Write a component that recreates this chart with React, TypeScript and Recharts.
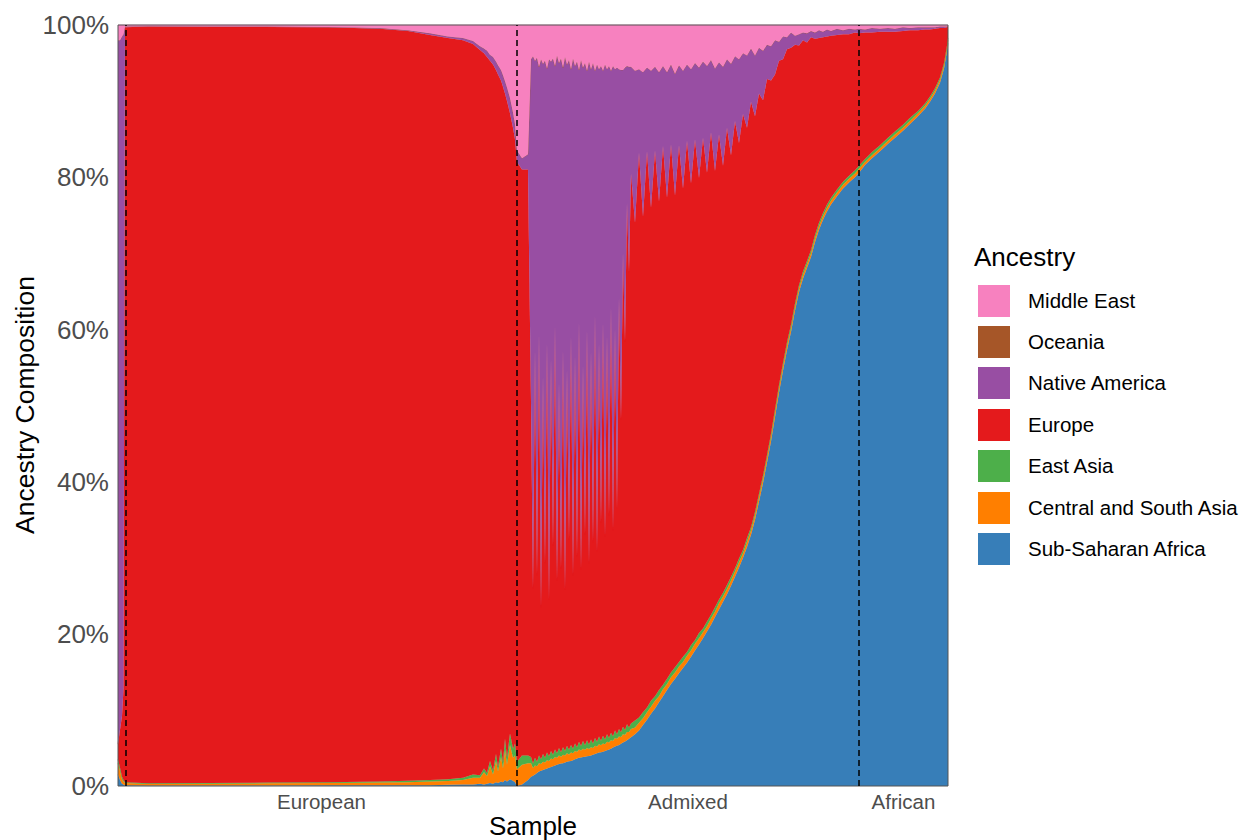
import { AreaChart, Area, XAxis, YAxis, ReferenceLine, ReferenceArea } from "recharts";

// sample rank on the x axis (samples are sorted inside each group)
const sampleRank = [
  0, 2, 4, 5.5, 7,
  30, 90, 150, 210, 262, 290, 312, 330, 345, 355,
  362, 366, 369, 372, 375, 378, 380, 383, 385, 387,
  389, 392, 395, 397, 399,
  404, 410,
  413, 415, 417, 419, 421, 423, 425, 427, 429, 431,
  433, 435, 437, 439, 441, 443, 445, 447, 449, 451,
  453, 455, 457, 459, 461, 463, 465, 467, 469, 471,
  473, 475, 477, 479, 481, 483, 485, 487, 489, 491,
  493, 495, 497, 499, 501, 503, 505, 507, 509, 511,
  513,
  517, 521, 525, 529, 533, 537, 541, 545, 549, 553,
  557, 561, 565, 569, 573, 577, 581, 585, 589, 593,
  597, 601, 605, 609, 613, 617, 621, 625, 629, 633,
  637, 641, 645, 649, 653, 657, 661, 665, 669, 673,
  677, 681, 685, 689, 693,
  697, 701, 705, 709, 713,
  719, 725, 731, 737, 741,
  747, 754, 762, 770, 777, 785, 792, 800, 807, 812,
  817, 822, 826, 829, 830,
];

// ancestry proportions (%) per sample
const subSaharanAfrica = [
  1.5, 0.8, 0.3, 0.2, 0.1,
  0.05, 0.05, 0.05, 0.1, 0.1, 0.1, 0.1, 0.15, 0.2, 0.2,
  0.3, 0.2, 0.3, 0.4, 0.3, 0.5, 0.4, 0.6, 0.5, 0.8,
  0.6, 0.9, 0.7, 0.5, 0.0,
  0.2, 0.8,
  1.2, 1.35, 1.5, 1.7, 1.9, 2.0, 2.1, 2.2, 2.3, 2.4,
  2.5, 2.6, 2.7, 2.8, 2.9, 2.95, 3.0, 3.1, 3.2, 3.25,
  3.3, 3.4, 3.5, 3.6, 3.7, 3.75, 3.8, 3.85, 3.9, 3.95,
  4.0, 4.1, 4.2, 4.3, 4.4, 4.45, 4.5, 4.6, 4.7, 4.8,
  4.9, 5.05, 5.2, 5.3, 5.4, 5.55, 5.7, 5.85, 6.0, 6.2,
  6.4,
  6.8, 7.3, 8.0, 8.7, 9.5, 10.2, 11.0, 11.8, 12.6, 13.4,
  14.1, 14.8, 15.5, 16.2, 17.0, 17.8, 18.6, 19.4, 20.3, 21.2,
  22.2, 23.2, 24.2, 25.2, 26.3, 27.5, 28.7, 30.0, 31.4, 33.0,
  35.0, 37.4, 39.8, 42.5, 45.3, 48.5, 51.7, 54.6, 57.3, 59.7,
  62.5, 64.9, 66.7, 68.1, 69.5,
  71.5, 73.1, 74.4, 75.5, 76.4,
  77.5, 78.5, 79.3, 80.0, 80.6,
  81.6, 82.5, 83.4, 84.4, 85.2, 86.1, 87.0, 88.0, 89.0, 89.9,
  91.0, 92.4, 94.3, 96.6, 97.6,
];

const centralSouthAsia = [
  1.5, 1.2, 0.6, 0.4, 0.3,
  0.2, 0.25, 0.3, 0.3, 0.35, 0.4, 0.5, 0.5, 0.6, 0.9,
  0.8, 1.6, 1.0, 2.2, 1.2, 2.8, 1.5, 3.2, 1.8, 4.0,
  2.2, 4.5, 3.0, 3.5, 2.2,
  2.6, 2.2,
  1.8, 1.0, 1.2, 0.9, 1.1, 0.9, 1.1, 0.9, 1.1, 0.9,
  1.1, 0.9, 1.1, 0.9, 1.1, 0.9, 1.1, 0.9, 1.1, 0.9,
  1.1, 0.9, 1.1, 0.9, 1.1, 0.9, 1.1, 0.9, 1.1, 0.9,
  1.1, 0.9, 1.1, 0.9, 1.1, 0.9, 1.1, 0.9, 1.1, 0.9,
  1.1, 0.9, 1.1, 0.9, 1.1, 0.9, 1.1, 0.9, 1.1, 0.9,
  1.1,
  0.9, 1.0, 0.9, 1.0, 0.9, 1.0, 0.8, 0.9, 0.8, 0.9,
  0.8, 0.9, 0.8, 0.9, 0.8, 0.9, 0.8, 0.8, 0.7, 0.8,
  0.7, 0.8, 0.7, 0.7, 0.7, 0.7, 0.7, 0.6, 0.7, 0.6,
  0.6, 0.6, 0.6, 0.6, 0.6, 0.6, 0.6, 0.6, 0.6, 0.5,
  0.5, 0.5, 0.5, 0.5, 0.5,
  0.5, 0.5, 0.5, 0.5, 0.5,
  0.5, 0.5, 0.5, 0.5, 0.5,
  0.4, 0.4, 0.4, 0.4, 0.4, 0.4, 0.4, 0.4, 0.4, 0.4,
  0.4, 0.4, 0.4, 0.4, 0.4,
];

const eastAsia = [
  0.5, 0.4, 0.3, 0.2, 0.1,
  0.1, 0.1, 0.1, 0.1, 0.15, 0.2, 0.2, 0.25, 0.3, 0.4,
  0.3, 0.5, 0.4, 0.7, 0.5, 0.9, 0.6, 1.1, 0.8, 1.4,
  0.9, 1.5, 1.2, 1.6, 1.0,
  1.2, 1.0,
  0.8, 0.6, 1.0, 0.6, 1.0, 0.6, 1.0, 0.6, 1.0, 0.6,
  1.0, 0.6, 1.0, 0.6, 1.0, 0.6, 1.0, 0.6, 1.0, 0.6,
  1.0, 0.6, 1.0, 0.6, 1.0, 0.6, 1.0, 0.6, 1.0, 0.6,
  1.0, 0.6, 1.0, 0.6, 1.0, 0.6, 1.0, 0.6, 1.0, 0.6,
  1.0, 0.6, 1.0, 0.6, 1.0, 0.6, 1.0, 0.6, 1.0, 0.6,
  0.7,
  0.9, 0.7, 0.8, 0.6, 0.8, 0.6, 0.8, 0.6, 0.7, 0.6,
  0.7, 0.6, 0.7, 0.5, 0.7, 0.5, 0.7, 0.5, 0.6, 0.5,
  0.6, 0.5, 0.5, 0.5, 0.5, 0.4, 0.5, 0.4, 0.5, 0.4,
  0.4, 0.4, 0.4, 0.4, 0.4, 0.4, 0.4, 0.4, 0.4, 0.4,
  0.4, 0.4, 0.4, 0.4, 0.4,
  0.4, 0.4, 0.4, 0.4, 0.4,
  0.4, 0.4, 0.4, 0.4, 0.4,
  0.4, 0.4, 0.4, 0.4, 0.4, 0.4, 0.4, 0.3, 0.3, 0.3,
  0.3, 0.3, 0.3, 0.3, 0.3,
];

const europe = [
  2.0, 5.0, 8.0, 12.0, 99.2,
  99.45, 99.35, 99.3, 99.2, 98.9, 98.5, 97.9, 97.4, 96.9, 96.0,
  95.3, 94.0, 94.1, 92.0, 92.8, 89.9, 91.0, 87.8, 88.8, 84.8,
  86.3, 81.5, 81.6, 79.4, 78.8,
  77.0, 77.0,
  46.7, 22.95, 53.6, 24.5, 55.5, 20.0, 49.7, 25.6, 53.9, 20.6,
  51.6, 27.5, 55.8, 22.7, 48.0, 24.15, 52.3, 21.2, 49.5, 27.65,
  53.8, 22.7, 51.0, 25.1, 55.3, 23.15, 49.5, 27.65, 54.0, 23.75,
  51.1, 26.4, 55.7, 25.0, 51.7, 28.65, 54.4, 26.7, 52.4, 29.3,
  56.0, 27.05, 52.9, 29.6, 56.7, 41.05, 62.3, 51.05, 68.5, 59.8,
  72.3,
  65.4, 74.2, 65.1, 73.1, 64.8, 71.7, 64.2, 70.8, 63.2, 69.4,
  62.0, 67.9, 61.5, 67.2, 60.7, 65.8, 59.8, 64.5, 59.0, 63.4,
  57.3, 61.1, 56.1, 60.1, 55.4, 58.8, 54.6, 57.3, 53.9, 55.9,
  52.0, 52.6, 49.3, 49.4, 46.4, 44.0, 42.6, 39.9, 38.5, 36.4,
  34.0, 31.5, 30.4, 28.7, 28.0,
  25.8, 24.3, 23.1, 22.1, 21.3,
  20.3, 19.4, 18.6, 18.1, 17.4,
  16.6, 15.7, 14.9, 13.9, 13.1, 12.3, 11.5, 10.6, 9.7, 8.8,
  7.8, 6.5, 4.6, 2.4, 1.5,
];

const nativeAmerica = [
  92.5, 90.6, 89.3, 86.0, 0.1,
  0.05, 0.05, 0.05, 0.05, 0.1, 0.1, 0.2, 0.2, 0.3, 0.4,
  0.5, 0.6, 0.8, 0.8, 1.0, 1.1, 1.2, 1.4, 1.5, 1.6,
  1.8, 2.0, 2.0, 2.0, 1.5,
  1.5, 2.0,
  45, 70, 38, 68, 35, 72, 41, 66, 36, 71,
  39, 64, 34, 69, 42, 67, 37, 70, 40, 63,
  35, 68, 38, 65, 33, 67, 39, 62, 34, 66,
  37, 63, 32, 64, 36, 60, 33, 62, 35, 59,
  31, 61, 34, 58, 30, 46, 24, 36, 18, 27,
  14,
  20, 11, 19, 11, 18, 11, 17, 10.5, 16.5, 10.5,
  16, 10.5, 15.5, 10, 15, 10, 14.5, 10, 14, 9.5,
  13.5, 9.5, 13, 9, 12, 8.5, 11, 8, 9.5, 7,
  8, 6, 6.5, 4.5, 4.5, 4.5, 2.5, 3, 1.6, 2.0,
  1.2, 1.5, 1.0, 1.2, 0.8,
  0.8, 1.0, 0.7, 0.9, 0.6,
  0.8, 0.5, 0.7, 0.4, 0.6,
  0.4, 0.6, 0.4, 0.5, 0.4, 0.5, 0.3, 0.4, 0.3, 0.3,
  0.2, 0.2, 0.2, 0.1, 0.1,
];

const oceania = [
  0, 0, 0, 0, 0,
  0, 0, 0, 0, 0, 0, 0, 0, 0, 0,
  0, 0, 0, 0, 0, 0, 0, 0, 0, 0,
  0, 0, 0, 0, 0,
  0, 0,
  0, 0, 0, 0, 0, 0, 0, 0, 0, 0,
  0, 0, 0, 0, 0, 0, 0, 0, 0, 0,
  0, 0, 0, 0, 0, 0, 0, 0, 0, 0,
  0, 0, 0, 0, 0, 0, 0, 0, 0, 0,
  0, 0, 0, 0, 0, 0, 0, 0, 0, 0,
  0,
  0, 0, 0, 0, 0, 0, 0, 0, 0, 0,
  0, 0, 0, 0, 0, 0, 0, 0, 0, 0,
  0, 0, 0, 0, 0, 0, 0, 0, 0, 0,
  0, 0, 0, 0, 0, 0, 0, 0, 0, 0,
  0, 0, 0, 0, 0,
  0, 0, 0, 0, 0,
  0, 0, 0, 0, 0,
  0, 0, 0, 0, 0, 0, 0, 0, 0, 0,
  0, 0, 0, 0, 0,
];

const middleEast = [
  2.0, 2.0, 1.5, 1.2, 0.2,
  0.15, 0.2, 0.2, 0.25, 0.4, 0.7, 1.1, 1.5, 1.7, 2.1,
  2.8, 3.1, 3.4, 3.9, 4.2, 4.8, 5.3, 5.9, 6.6, 7.4,
  8.2, 9.6, 11.5, 13.0, 16.5,
  17.5, 17.0,
  4.5, 4.1, 4.7, 4.3, 5.5, 4.5, 5.1, 4.7, 5.7, 4.5,
  4.8, 4.4, 5.4, 4.0, 5.0, 4.4, 5.6, 4.2, 5.2, 4.6,
  5.8, 4.4, 5.4, 4.8, 5.9, 4.6, 5.6, 5.0, 6.0, 4.8,
  5.8, 5.0, 6.0, 5.2, 5.8, 5.4, 6.0, 5.2, 5.8, 5.4,
  6.0, 5.4, 5.8, 5.6, 5.8, 5.9, 5.9, 5.6, 5.4, 5.5,
  5.5,
  6.0, 5.8, 6.2, 5.6, 6.0, 5.5, 6.2, 5.4, 6.2, 5.2,
  6.4, 5.3, 6.0, 5.2, 5.8, 5.0, 5.6, 4.8, 5.4, 4.6,
  5.7, 4.9, 5.5, 4.5, 5.1, 4.1, 4.5, 3.7, 4.0, 3.1,
  4.0, 3.0, 3.4, 2.6, 2.8, 2.0, 2.2, 1.5, 1.6, 1.0,
  1.4, 1.2, 1.0, 1.1, 0.8,
  1.0, 0.7, 0.9, 0.6, 0.8,
  0.5, 0.7, 0.5, 0.6, 0.5,
  0.6, 0.4, 0.5, 0.4, 0.5, 0.3, 0.4, 0.3, 0.3, 0.3,
  0.3, 0.2, 0.2, 0.2, 0.1,
];

// group boundaries (dashed lines) and where the group names sit
const groupBreaks = [8, 399, 741];
const groupCenters = [203.5, 570, 785.5];
const groupLabels = ["European", "Admixed", "African"];

const yTicks = [0, 0.2, 0.4, 0.6, 0.8, 1];

// stack order, bottom to top (Set1 palette)
const SERIES = [
  { key: "ssa", name: "Sub-Saharan Africa", color: "#377EB8", values: subSaharanAfrica },
  { key: "csa", name: "Central and South Asia", color: "#FF7F00", values: centralSouthAsia },
  { key: "eas", name: "East Asia", color: "#4DAF4A", values: eastAsia },
  { key: "eur", name: "Europe", color: "#E41A1C", values: europe },
  { key: "nam", name: "Native America", color: "#984EA3", values: nativeAmerica },
  { key: "oce", name: "Oceania", color: "#A65628", values: oceania },
  { key: "mde", name: "Middle East", color: "#F781BF", values: middleEast },
];

const FONT = '"Liberation Sans", Arial, Helvetica, sans-serif';

export default function App() {
  // one row per sample, columns = ancestry share
  const data = sampleRank.map((rank, i) => {
    const row: Record<string, number> = { rank };
    SERIES.forEach((s) => {
      row[s.key] = s.values[i];
    });
    return row;
  });

  return (
    <div
      style={{
        position: "absolute",
        left: 0,
        top: 0,
        width: 1244,
        height: 840,
        background: "#fff",
        fontFamily: FONT,
      }}
    >
      <AreaChart
        width={1244}
        height={840}
        data={data}
        stackOffset="expand"
        margin={{ top: 25, right: 296, bottom: 14, left: 0 }}
      >
        <XAxis
          dataKey="rank"
          type="number"
          domain={[0, 830]}
          ticks={groupCenters}
          tickFormatter={(v: number) => groupLabels[groupCenters.indexOf(v)]}
          axisLine={false}
          tickLine={false}
          tickSize={0}
          tickMargin={8}
          height={40}
          tick={{ fill: "#4D4D4D", fontSize: 20.5, fontFamily: FONT }}
        />
        <YAxis
          type="number"
          domain={[0, 1]}
          ticks={yTicks}
          tickFormatter={(v: number) => `${Math.round(v * 100)}%`}
          axisLine={false}
          tickLine={false}
          tickSize={0}
          tickMargin={9}
          width={118}
          tick={{ fill: "#4D4D4D", fontSize: 26, fontFamily: FONT }}
        />
        {SERIES.map((s) => (
          <Area
            key={s.key}
            dataKey={s.key}
            name={s.name}
            stackId="1"
            type="linear"
            fill={s.color}
            fillOpacity={1}
            stroke={s.color}
            strokeWidth={0.5}
            dot={false}
            activeDot={false}
            isAnimationActive={false}
          />
        ))}
        {groupBreaks.map((b) => (
          <ReferenceLine
            key={b}
            x={b}
            stroke="#000"
            strokeWidth={1.5}
            strokeDasharray="6 4"
          />
        ))}
        {/* thin panel border */}
        <ReferenceArea
          x1={0}
          x2={830}
          y1={0}
          y2={1}
          fill="none"
          stroke="#555"
          strokeWidth={1}
          ifOverflow="visible"
        />
      </AreaChart>

      {/* axis titles */}
      <div
        style={{
          position: "absolute",
          left: 25,
          top: 405,
          transform: "translate(-50%, -50%) rotate(-90deg)",
          fontSize: 26.5,
          color: "#000",
          whiteSpace: "nowrap",
        }}
      >
        Ancestry Composition
      </div>
      <div
        style={{
          position: "absolute",
          left: 533,
          top: 826,
          transform: "translate(-50%, -50%)",
          fontSize: 26,
          color: "#000",
          whiteSpace: "nowrap",
        }}
      >
        Sample
      </div>

      {/* legend, top item = top of the stack */}
      <div
        style={{
          position: "absolute",
          left: 974,
          top: 242,
          fontSize: 26,
          lineHeight: "30px",
          color: "#000",
        }}
      >
        Ancestry
      </div>
      {[...SERIES].reverse().map((s, i) => (
        <div
          key={s.key}
          style={{
            position: "absolute",
            left: 978,
            top: 284.5 + i * 41.4,
            height: 32,
            display: "flex",
            alignItems: "center",
          }}
        >
          <div style={{ width: 32, height: 32, background: s.color }} />
          <span
            style={{
              marginLeft: 18,
              fontSize: 20.5,
              color: "#000",
              whiteSpace: "nowrap",
            }}
          >
            {s.name}
          </span>
        </div>
      ))}
    </div>
  );
}
